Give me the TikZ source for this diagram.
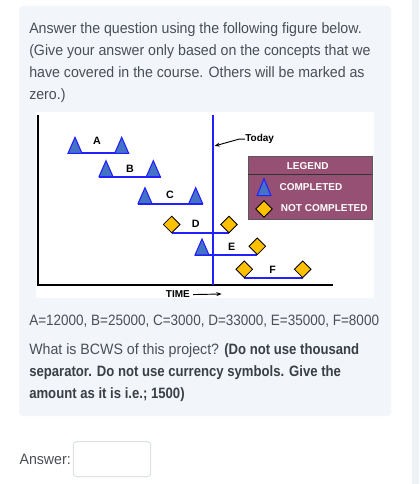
\documentclass[tikz,border=0pt]{standalone}
\usepackage{fontspec}
\setmainfont{Liberation Sans}
\newfontfamily\bodyfont{Liberation Sans}[FakeStretch=0.945]
\newfontfamily\numfont{Liberation Sans}[FakeStretch=0.9]
\newfontfamily\boldfont{Liberation Sans}[FakeStretch=0.875]
\usetikzlibrary{arrows.meta}
\definecolor{panel}{HTML}{F2F5F9}
\definecolor{strip}{HTML}{EEF2F5}
\definecolor{txt}{HTML}{4A4F55}
\definecolor{txtb}{HTML}{3A3F45}
\definecolor{triblue}{HTML}{4472C4}
\definecolor{lineblue}{HTML}{2121FF}
\definecolor{gold}{HTML}{FFC000}
\definecolor{mauve}{HTML}{955073}
\definecolor{boxline}{HTML}{DEE2E6}
\tikzset{
  body/.style={anchor=base west,inner sep=0pt,text=txt,font=\bodyfont\fontsize{11.25}{13}\selectfont},
  bodyb/.style={body,text=txtb,font=\boldfont\fontsize{11.25}{13}\selectfont\bfseries},
  lbl/.style={inner sep=0pt,font=\fontsize{8}{9}\selectfont\bfseries},
  small/.style={inner sep=0pt,font=\fontsize{7.5}{9}\selectfont\bfseries},
  legtext/.style={anchor=base west,inner sep=0pt,text=white,font=\fontsize{7.5}{9}\selectfont\bfseries},
  bar/.style={draw=lineblue,line width=1.5pt},
  tri/.pic={\filldraw[fill=triblue,draw=lineblue,line width=0.8pt,line join=miter] (-7,0) -- (0,-16) -- (7,0) -- cycle;},
  ltri/.pic={\filldraw[fill=triblue,draw=lineblue,line width=0.8pt,line join=miter] (-7,0) -- (0,-17) -- (7,0) -- cycle;},
  dia/.pic={\filldraw[fill=gold,draw=black,line width=0.6pt] (-8.3,0) -- (0,-8.3) -- (8.3,0) -- (0,8.3) -- cycle;},
}
\begin{document}
\begin{tikzpicture}[x=0.75pt,y=-0.75pt]
\useasboundingbox (0,0) rectangle (419,484);
\fill[white] (0,0) rectangle (419,484);
\fill[strip] (412,0) rectangle (419,484);
\fill[panel,rounded corners=3pt] (19,6) rectangle (391,416);
% question text
\node[body] (q1) at (29,33.3) {Answer the question using the following figure below.};
\node[body] (q2) at (29,55.3) {(Give your answer only based on the concepts that we};
\node[body] (q3) at (29,77.3) {have covered in the course. Others will be marked as};
\node[body] (q4) at (29,99.3) {zero.)};
% figure
\fill[white] (36,112) rectangle (374,298);
\draw[black,line width=0.9pt] (38,115) -- (38,285) -- (333,285);
% bars
\draw[bar] (68,153.3) -- (129,153.3);
\draw[bar] (98.5,176.7) -- (160.5,176.7);
\draw[bar] (137.5,203.7) -- (203,203.7);
\draw[bar] (171.7,233) -- (229,233);
\draw[bar] (194.5,255) -- (257.3,255);
\draw[bar] (244.3,277.5) -- (302.7,277.5);
% today line
\draw[draw=lineblue,line width=2pt] (213,115) -- (213,285);
% symbols
\pic at (75,153.3) {tri};
\pic at (121.7,153.3) {tri};
\pic at (106,176.7) {tri};
\pic at (153.3,176.7) {tri};
\pic at (145,203.7) {tri};
\pic at (195.7,203.7) {tri};
\pic at (171.7,224.5) {dia};
\pic at (229,224.5) {dia};
\pic at (202,255) {tri};
\pic at (257.3,246.3) {dia};
\pic at (244.3,269.3) {dia};
\pic at (302.7,269.3) {dia};
% labels
\node[lbl] (la) at (97,140.7) {A};
\node[lbl] (lb) at (130,169) {B};
\node[lbl] (lc) at (170,195) {C};
\node[lbl] (ld) at (195.7,224) {D};
\node[lbl] (le) at (231.7,247.3) {E};
\node[lbl] (lf) at (272.7,269.7) {F};
% today
\node[small,anchor=base west] (today) at (245,141.7) {Today};
\coordinate (tl) at (214.5,146);
\draw[black,line width=0.7pt,-{Stealth[length=4pt,width=3pt]}] (today.west) -- ++(-6,0) -- (tl);
% time
\node[small,anchor=base west] (time) at (165.7,297.5) {TIME};
\coordinate (te) at (221.7,294);
\draw[black,line width=0.7pt,-{Stealth[length=4pt,width=3pt]}] (time.east) ++(3,0.5) coordinate (ts) (ts) -- (te);
% legend
\filldraw[fill=mauve,draw=black!65,line width=0.7pt] (248.3,156) rectangle (372.3,219.3);
\draw[black!80,line width=0.7pt] (248.3,174.3) -- (372.3,174.3);
\node[small,text=white] (leg) at (307.7,166) {LEGEND};
\pic at (264,195.7) {ltri};
\node[legtext] (lcomp) at (279.3,191) {COMPLETED};
\pic at (264,209) {dia};
\node[legtext] (lnot) at (280.7,211.3) {NOT COMPLETED};
% bottom text
\node[body,font=\numfont\fontsize{11.25}{13}\selectfont] (v) at (29,325) {A=12000, B=25000, C=3000, D=33000, E=35000, F=8000};
\node[body] (w1) at (29,354) {What is BCWS of this project? \textcolor{txtb}{\boldfont\bfseries(Do not use thousand}};
\node[bodyb] (w2) at (29,376) {separator. Do not use currency symbols. Give the};
\node[bodyb] (w3) at (29,398) {amount as it is i.e.; 1500)};
% answer
\node[body] (ans) at (19.3,464) {Answer:};
\filldraw[fill=white,draw=boxline,line width=0.75pt,rounded corners=2.5pt] (73.3,441.7) rectangle (150.7,476.7);
\end{tikzpicture}
\end{document}
